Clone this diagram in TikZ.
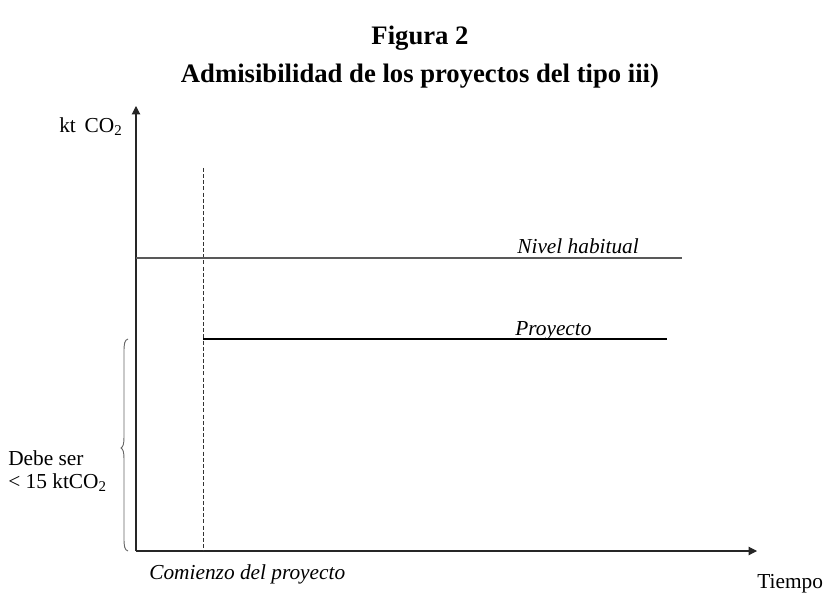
\documentclass[tikz,border=0pt]{standalone}
\usepackage{fontspec}
\setmainfont{Liberation Serif}
\usetikzlibrary{arrows.meta}
\begin{document}
\begin{tikzpicture}[x=0.6pt,y=-0.6pt,
  lbl/.style={inner sep=0pt, font=\fontsize{12.8}{14}\selectfont},
  itlbl/.style={inner sep=0pt, font=\fontsize{12.8}{14}\selectfont\itshape},
  ttl/.style={inner sep=0pt, font=\fontsize{16}{19}\selectfont\bfseries},
  axis/.style={line width=0.65pt, black!85, -{Triangle[length=5pt,width=5pt]}},
  level/.style={line width=0.65pt},
  guide/.style={line width=0.5pt, dash pattern=on 2.4pt off 1.3pt, black!80},
  bracestyle/.style={line width=0.55pt, black!60}]
\useasboundingbox (0,0) rectangle (826,593);
% axes
\coordinate (O) at (136,551);
\coordinate (ytip) at (136,106);
\coordinate (xtip) at (757,551);
\draw[axis] (O) -- (ytip);
\draw[axis] (O) -- (xtip);
% titles
\node[ttl, anchor=base] (fig) at (420,45) {Figura 2};
\node[ttl, anchor=base] (title) at (420,83) {Admisibilidad de los proyectos del tipo iii)};
% axis labels
\node[lbl, anchor=base east] (ylab) at (123,133) {kt\, CO\textsubscript{2}};
\node[lbl, anchor=base west] (xlab) at (757,588) {Tiempo};
\node[itlbl, anchor=base west] (start) at (149,579) {Comienzo del proyecto};
% project start (dashed)
\coordinate (dashTop) at (203,168);
\coordinate (dashBot) at (203,551);
\draw[guide] (dashTop) -- (dashBot);
% levels
\coordinate (nivA) at (136,258);
\coordinate (nivB) at (682,258);
\draw[level, black!65] (nivA) -- (nivB);
\node[itlbl, anchor=base west] (nivlab) at (517,254) {Nivel habitual};
\coordinate (proA) at (203,339);
\coordinate (proB) at (667,339);
\draw[level, black] (proA) -- (proB);
\node[itlbl, anchor=base west] (prolab) at (515,335) {Proyecto};
% brace
\coordinate (brTop) at (128,339);
\coordinate (brTip) at (121,448);
\coordinate (brBot) at (128,551);
\draw[bracestyle] (brTop) .. controls (124.5,340) and (124,344) .. (124,352)
  -- (124,437) .. controls (124,444) and (123,447) .. (brTip)
  .. controls (123,449) and (124,452) .. (124,459)
  -- (124,538) .. controls (124,546) and (124.5,550) .. (brBot);
\node[inner sep=0pt, font=\fontsize{12.8}{13.6}\selectfont, anchor=base west, align=left] (cond) at (8,488) {Debe ser\\< 15 ktCO\textsubscript{2}};
\end{tikzpicture}
\end{document}
